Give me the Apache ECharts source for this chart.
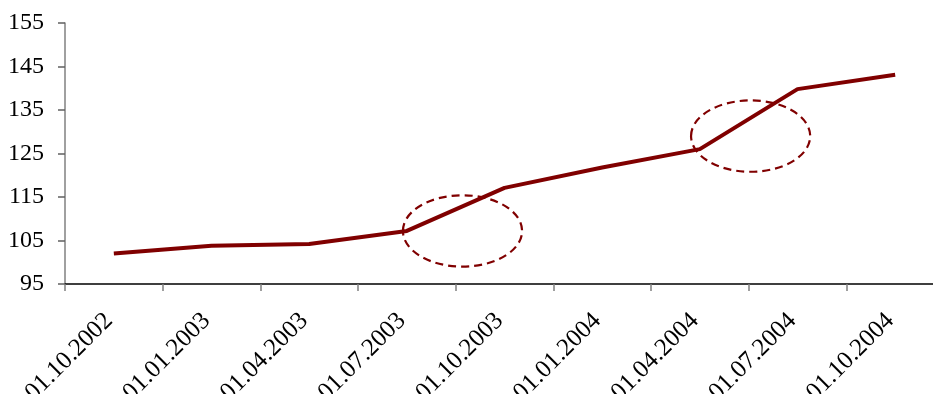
<!DOCTYPE html>
<html><head><meta charset="utf-8">
<script src="https://cdn.jsdelivr.net/npm/echarts@6/dist/echarts.min.js"></script>
<style>html,body{margin:0;padding:0;overflow:hidden;background:#fff}#c{width:944px;height:394px}</style>
</head><body><div id="c"></div>
<script>
var categories = ['01.10.2002','01.01.2003','01.04.2003','01.07.2003','01.10.2003','01.01.2004','01.04.2004','01.07.2004','01.10.2004'];
var values = [102, 103.8, 104.2, 107.2, 117.1, 121.8, 126, 139.8, 143.1];
// annotation ellipses: [category position (fractional index), value center, value radius]
var ellipses = [[3.57, 107.2, 8.2], [6.52, 129, 8.2]];

var chart = echarts.init(document.getElementById('c'));
var font = 'Liberation Serif';
chart.setOption({
  animation: false,
  grid: {left: 65, right: 0, top: 23, bottom: 110, containLabel: false, outerBoundsMode: 'none'},
  xAxis: {
    type: 'category', data: categories, boundaryGap: true,
    axisLine: {lineStyle: {color: '#000', width: 1.5}},
    axisTick: {show: true, length: 7, lineStyle: {color: '#808080', width: 1.5}},
    axisLabel: {rotate: 45, margin: 28, padding: [0, 7, 0, 0], color: '#000', fontFamily: font, fontSize: 25}
  },
  yAxis: {
    type: 'value', min: 95, max: 155, interval: 10,
    splitLine: {show: false},
    axisLine: {show: true, lineStyle: {color: '#808080', width: 1.5}},
    axisTick: {show: true, length: 7, lineStyle: {color: '#606060', width: 1.5}},
    axisLabel: {margin: 21, color: '#000', fontFamily: font, fontSize: 24}
  },
  series: [{
    type: 'line', data: values, symbol: 'none',
    lineStyle: {color: '#800000', width: 4}
  }]
});

var g = [];
ellipses.forEach(function (e) {
  var x0 = chart.convertToPixel({xAxisIndex: 0}, 0);
  var x1 = chart.convertToPixel({xAxisIndex: 0}, 1);
  var cx = x0 + (x1 - x0) * e[0];
  var cy = chart.convertToPixel({yAxisIndex: 0}, e[1]);
  var ry = Math.abs(chart.convertToPixel({yAxisIndex: 0}, e[1] + e[2]) - cy);
  var rx = (x1 - x0) * 0.61;
  g.push({type: 'ellipse', shape: {cx: cx, cy: cy, rx: rx, ry: ry},
    style: {fill: null, stroke: '#800000', lineWidth: 2.2, lineDash: [8, 5]}, z: 5});
});
chart.setOption({graphic: g});
</script></body></html>
